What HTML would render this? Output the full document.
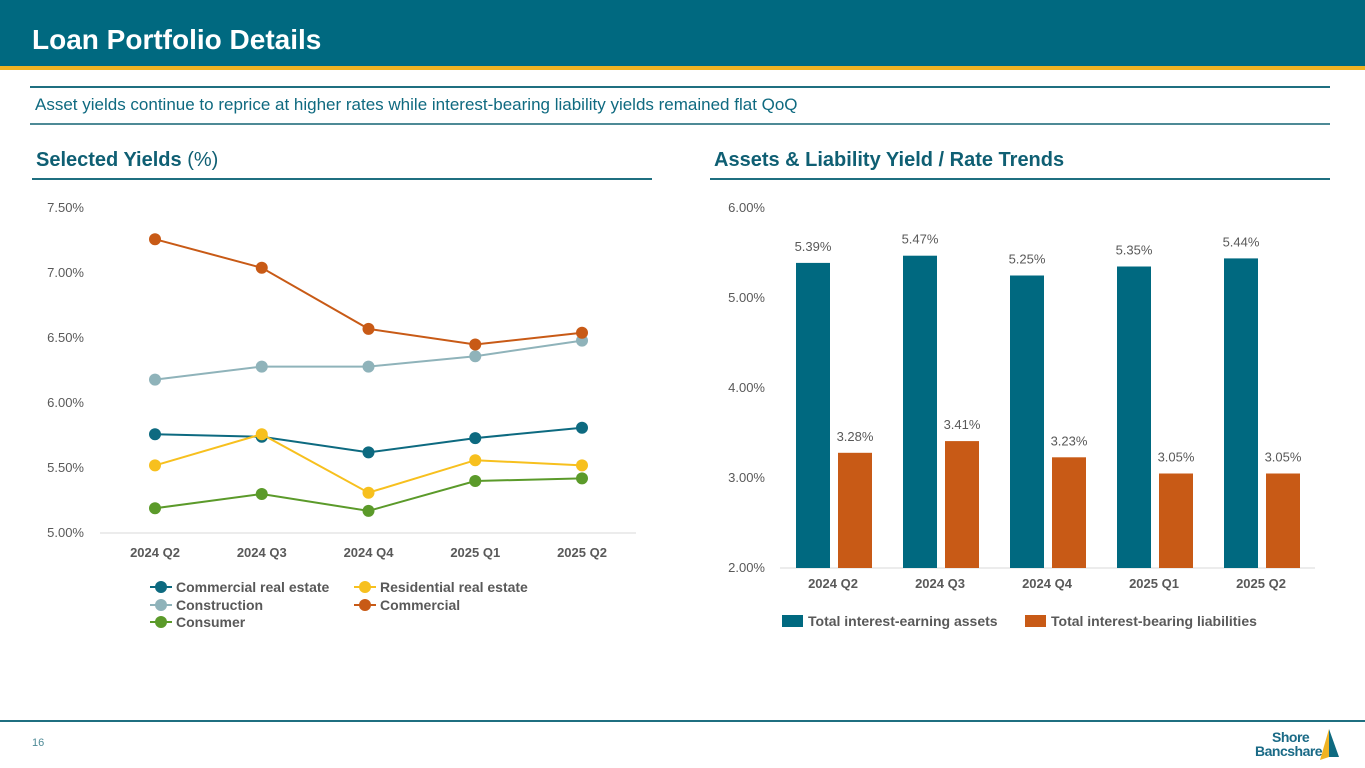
<!DOCTYPE html>
<html><head><meta charset="utf-8"><style>
body{margin:0;width:1365px;height:768px;overflow:hidden;background:#fff;font-family:"Liberation Sans",Arial,sans-serif;position:relative}
.abs{position:absolute}
</style></head><body>
<div class="abs" style="left:0;top:0;width:1365px;height:66px;background:#006980"></div>
<div class="abs" style="left:0;top:66px;width:1365px;height:4px;background:#f0b323"></div>
<div class="abs" style="left:32px;top:24px;font-size:28px;font-weight:bold;color:#fff">Loan Portfolio Details</div>
<div class="abs" style="left:30px;top:86px;width:1300px;height:2px;background:#1f6f80"></div>
<div class="abs" style="left:35px;top:95px;font-size:17px;color:#0f6a80">Asset yields continue to reprice at higher rates while interest-bearing liability yields remained flat QoQ</div>
<div class="abs" style="left:30px;top:123px;width:1300px;height:2px;background:#4d8a96"></div>
<div class="abs" style="left:36px;top:149px;font-size:20px;color:#0f5f73"><b>Selected Yields</b> (%)</div>
<div class="abs" style="left:32px;top:178px;width:620px;height:2px;background:#1f6f80"></div>
<div class="abs" style="left:714px;top:149px;font-size:20px;font-weight:bold;color:#0f5f73">Assets &amp; Liability Yield / Rate Trends</div>
<div class="abs" style="left:710px;top:178px;width:620px;height:2px;background:#1f6f80"></div>
<div class="abs" style="left:0;top:720px;width:1365px;height:2px;background:#1f6f80"></div>
<div class="abs" style="left:32px;top:737px;font-size:11px;color:#4d8a96">16</div>
<div class="abs" style="left:1250px;top:728px;width:115px;height:36px">
<div style="position:absolute;left:22px;top:2px;font-size:14px;font-weight:bold;color:#1a6a86;line-height:14px;letter-spacing:-0.5px">Shore</div>
<div style="position:absolute;left:5px;top:16px;font-size:14px;font-weight:bold;color:#1a6a86;line-height:14px;letter-spacing:-0.5px">Bancshares</div>
<svg style="position:absolute;left:66px;top:0" width="24" height="34"><polygon points="13,1 4,32 13,29" fill="#f0b323"/><polygon points="13,1 23,29 13,29" fill="#0f6a80"/></svg>
</div>
<svg class="abs" style="left:0;top:0" width="1365" height="768" id="charts"></svg>
<script>
const lineCats=["2024 Q2","2024 Q3","2024 Q4","2025 Q1","2025 Q2"];
const lineTicks=[5.0,5.5,6.0,6.5,7.0,7.5];
const seriesNames=["Commercial real estate","Construction","Consumer","Residential real estate","Commercial"];
const creVals=[5.76,5.74,5.62,5.73,5.81];
const constructionVals=[6.18,6.28,6.28,6.36,6.48];
const consumerVals=[5.19,5.30,5.17,5.40,5.42];
const residentialVals=[5.52,5.76,5.31,5.56,5.52];
const commercialVals=[7.26,7.04,6.57,6.45,6.54];
const barCats=["2024 Q2","2024 Q3","2024 Q4","2025 Q1","2025 Q2"];
const barTicks=[2,3,4,5,6];
const assetVals=[5.39,5.47,5.25,5.35,5.44];
const liabVals=[3.28,3.41,3.23,3.05,3.05];
const barNames=["Total interest-earning assets","Total interest-bearing liabilities"];

const NS="http://www.w3.org/2000/svg";
const svg=document.getElementById('charts');
function mk(t,a,p){const e=document.createElementNS(NS,t);for(const k in a)e.setAttribute(k,a[k]);(p||svg).appendChild(e);return e;}
function txt(x,y,s,a){const e=mk('text',Object.assign({x:x,y:y,'font-family':'Liberation Sans, Arial, sans-serif'},a));e.textContent=s;return e;}

// line chart
const lx=i=>155+i*106.75;
const ly=v=>533-(v-5)*130;
lineTicks.forEach(t=>{const e=txt(84,ly(t)+4,t.toFixed(2)+'%',{'font-size':13,fill:'#595959','text-anchor':'end'});

});
const la=mk('line',{x1:100,x2:636,y1:533,y2:533,stroke:'#d9d9d9'});


lineCats.forEach((c,i)=>{const e=txt(lx(i),557,c,{'font-size':13,'font-weight':'bold',fill:'#595959','text-anchor':'middle'});

});
const lineData=[creVals,constructionVals,consumerVals,residentialVals,commercialVals];
const colors=["#0d6a80","#8fb3ba","#5b9a2a","#f7c01e","#c85a16"];
const drawOrder=[1,4,0,3,2];
drawOrder.forEach(s=>{const vals=lineData[s];
const p=mk('polyline',{points:vals.map((v,i)=>lx(i)+','+ly(v)).join(' '),fill:'none',stroke:colors[s],'stroke-width':2});


vals.forEach((v,i)=>{const c=mk('circle',{cx:lx(i),cy:ly(v),r:6,fill:colors[s]});

});});
const legPos=[[150,587],[150,605],[150,622],[354,587],[354,605]];
seriesNames.forEach((n,s)=>{const [x,y]=legPos[s];
const g=mk('g',{});


mk('line',{x1:x,x2:x+22,y1:y,y2:y,stroke:colors[s],'stroke-width':2},g);
mk('circle',{cx:x+11,cy:y,r:6,fill:colors[s]},g);
const t=txt(x+26,y+5,n,{'font-size':14,'font-weight':'bold',fill:'#595959'});g.appendChild(t);});

// bar chart
const bx=i=>833+i*107;
const by=v=>568-(v-2)*90;
barTicks.forEach(t=>{const e=txt(765,by(t)+4,t.toFixed(2)+'%',{'font-size':13,fill:'#595959','text-anchor':'end'});

});
const ba=mk('line',{x1:780,x2:1315,y1:568,y2:568,stroke:'#d9d9d9'});


barCats.forEach((c,i)=>{const e=txt(bx(i),588,c,{'font-size':13,'font-weight':'bold',fill:'#595959','text-anchor':'middle'});

});
[[assetVals,'#006980',-37],[liabVals,'#c85a16',5]].forEach(([vals,col,off],s)=>{
vals.forEach((v,i)=>{const r=mk('rect',{x:bx(i)+off,y:by(v),width:34,height:568-by(v),fill:col});


const t=txt(bx(i)+off+17,by(v)-12,v.toFixed(2)+'%',{'font-size':13,fill:'#595959','text-anchor':'middle'});

});});
[[782,'#006980'],[1025,'#c85a16']].forEach(([x,col],s)=>{const g=mk('g',{});


mk('rect',{x:x,y:615,width:21,height:12,fill:col},g);
g.appendChild(txt(x+26,626,barNames[s],{'font-size':14,'font-weight':'bold',fill:'#595959'}));});
</script>
</body></html>
